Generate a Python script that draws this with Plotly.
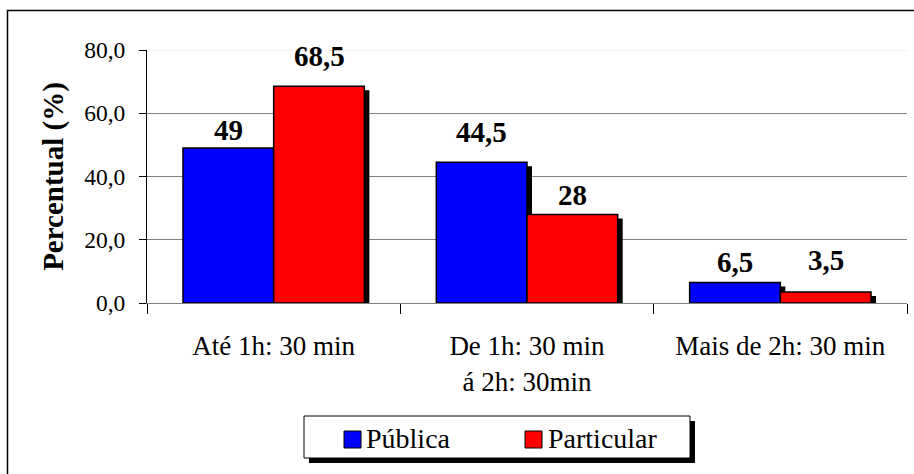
import plotly.graph_objects as go

# Data
categories = ["Até 1h: 30 min", "De 1h: 30 min<br>á 2h: 30min", "Mais de 2h: 30 min"]
series_names = ["Pública", "Particular"]
publica = [49, 44.5, 6.5]
particular = [68.5, 28, 3.5]
y_ticks = [0, 20, 40, 60, 80]

# Styling
colors = ["#0000FF", "#FF0000"]
label_gap_px = [[8, 20, 10], [20, 9, 22]]   # space between bar top and its value label

# Figure geometry (px)
W, H = 914, 474
ML, MR, MT, MB = 147, 7, 50, 171
PW, PH = W - ML - MR, H - MT - MB
Y_MAX = 80
CAT_PX = PW / len(categories)

FONT = "Liberation Serif"
BAR_W = 0.358                        # bar width in category units
SHADOW_DX = 5 / CAT_PX               # shadow shift, 5 px right
SHADOW_DY = 4 / PH * Y_MAX           # shadow shift, 4 px down


def px_x(p):
    return (p - ML) / PW


def px_y(p):
    return (H - MB - p) / PH


series = [publica, particular]
offsets = [-BAR_W, 0.0]

fig = go.Figure()

# drop shadows behind the bars
for vals, off in zip(series, offsets):
    fig.add_trace(go.Bar(
        x=categories, y=[v - SHADOW_DY for v in vals],
        width=BAR_W, offset=off + SHADOW_DX,
        marker=dict(color="black", line=dict(width=0)),
        showlegend=False, hoverinfo="skip",
    ))

# bars
for name, vals, color, off in zip(series_names, series, colors, offsets):
    fig.add_trace(go.Bar(
        name=name, x=categories, y=vals,
        width=BAR_W, offset=off,
        marker=dict(color=color, line=dict(color="black", width=1.5)),
        showlegend=False,
    ))

annotations = []
# value labels above the bars
for s, (vals, off) in enumerate(zip(series, offsets)):
    for i, (cat, v) in enumerate(zip(categories, vals)):
        txt = f"{v:g}".replace(".", ",")
        annotations.append(dict(
            x=cat, y=v, xref="x", yref="y",
            xshift=(off + BAR_W / 2) * CAT_PX, yshift=label_gap_px[s][i] - 8,
            text=txt, showarrow=False, yanchor="bottom", xanchor="center",
            font=dict(family=FONT, size=29, color="black", weight="bold"),
        ))

shapes = [
    # light top gridline
    dict(type="line", xref="paper", yref="y", x0=0, x1=1, y0=80, y1=80,
         line=dict(color="#e4e4e4", width=1), layer="above"),
    # outer chart frame
    dict(type="rect", xref="paper", yref="paper",
         x0=px_x(7.5), x1=px_x(916), y0=px_y(480), y1=px_y(10.5),
         line=dict(color="black", width=1.5), layer="below"),
]

# legend box with drop shadow
LEG = dict(x0=304, x1=690, y0=416, y1=458)
shapes.append(dict(type="rect", xref="paper", yref="paper",
                   x0=px_x(LEG["x0"] + 5), x1=px_x(LEG["x1"] + 5),
                   y0=px_y(LEG["y1"] + 5), y1=px_y(LEG["y0"] + 5),
                   fillcolor="black", line=dict(width=0), layer="above"))
shapes.append(dict(type="rect", xref="paper", yref="paper",
                   x0=px_x(LEG["x0"]), x1=px_x(LEG["x1"]),
                   y0=px_y(LEG["y1"]), y1=px_y(LEG["y0"]),
                   fillcolor="white", line=dict(color="black", width=1), layer="above"))
swatch_left = [344, 525]
text_left = [364, 546]
for name, color, sx, tx in zip(series_names, colors, swatch_left, text_left):
    shapes.append(dict(type="rect", xref="paper", yref="paper",
                       x0=px_x(sx), x1=px_x(sx + 17), y0=px_y(448), y1=px_y(431),
                       fillcolor=color, line=dict(color="black", width=1), layer="above"))
    annotations.append(dict(
        x=px_x(tx), y=px_y(438), xref="paper", yref="paper",
        text=name, showarrow=False, xanchor="left", yanchor="middle",
        font=dict(family=FONT, size=28, color="black"),
    ))

fig.update_layout(
    width=W, height=H,
    margin=dict(l=ML, r=MR, t=MT, b=MB),
    barmode="overlay",
    separators=",.",
    paper_bgcolor="white", plot_bgcolor="white",
    font=dict(family=FONT, color="black"),
    showlegend=False,
    shapes=shapes,
    annotations=annotations,
)

fig.update_xaxes(
    type="category", tickson="boundaries",
    ticks="outside", ticklen=10, tickcolor="black", tickwidth=1,
    showline=True, linecolor="#808080", linewidth=1,
    showgrid=False, range=[-0.5, 2.5],
    tickfont=dict(family=FONT, size=27, color="black"),
    ticklabelstandoff=19,
)

fig.update_yaxes(
    range=[0, Y_MAX], tickvals=y_ticks, tickformat=".1f",
    ticks="outside", ticklen=7, tickcolor="black",
    showline=True, linecolor="black", linewidth=1,
    showgrid=True, gridcolor="#808080", gridwidth=1,
    zeroline=False,
    tickfont=dict(family=FONT, size=23.5, color="black"),
    ticklabelstandoff=9,
    title=dict(text="Percentual (%)", standoff=12,
               font=dict(family=FONT, size=29, color="black", weight="bold")),
)

fig.write_html("out.html")
